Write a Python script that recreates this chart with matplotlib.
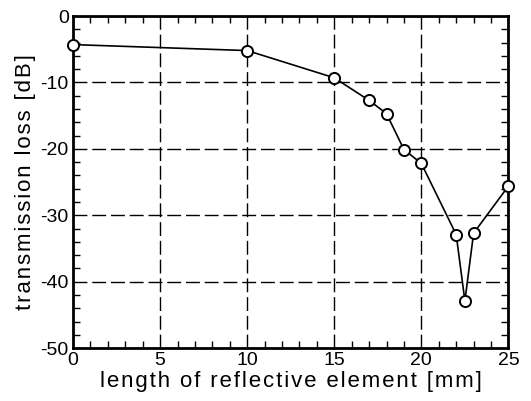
import matplotlib
matplotlib.use("Agg")
import matplotlib.pyplot as plt
from matplotlib.ticker import MultipleLocator

plt.rcParams['font.family'] = ['Liberation Sans', 'DejaVu Sans']
plt.rcParams['axes.unicode_minus'] = False

length_mm = [0, 10, 15, 17, 18, 19, 20, 22, 22.5, 23, 25]
loss_db = [-4.3, -5.2, -9.3, -12.7, -14.7, -20.1, -22.2, -32.9, -42.9, -32.7, -25.6]
x_label = 'length of reflective element [mm]'
y_label = 'transmission loss [dB]'


def spaced(s):
    return '\u200a'.join(s)


fig = plt.figure(figsize=(5.31, 4.01), dpi=100)
ax = fig.add_axes([0.1375, 0.132, 0.82, 0.828])

ax.plot(length_mm, loss_db, color='black', lw=1.2, marker='o', ms=8,
        mfc='white', mec='black', mew=1.4, zorder=5, clip_on=False)

ax.set_xlim(0, 25)
ax.set_ylim(-50, 0)
ax.xaxis.set_major_locator(MultipleLocator(5))
ax.xaxis.set_minor_locator(MultipleLocator(1))
ax.yaxis.set_major_locator(MultipleLocator(10))
ax.yaxis.set_minor_locator(MultipleLocator(2))

ax.grid(True, which='major', color='black', linestyle=(0, (10, 3.5)), lw=1.0)
ax.tick_params(which='both', direction='in', top=True, right=True, labelsize=14, pad=3)
ax.tick_params(which='major', length=0)
ax.tick_params(which='minor', length=5, width=1)
for s in ax.spines.values():
    s.set_linewidth(2)

ax.set_xlabel(spaced(x_label), fontsize=16, labelpad=1)
ax.set_ylabel(spaced(y_label), fontsize=16, labelpad=3)

fig.savefig('out.png', dpi=100)
